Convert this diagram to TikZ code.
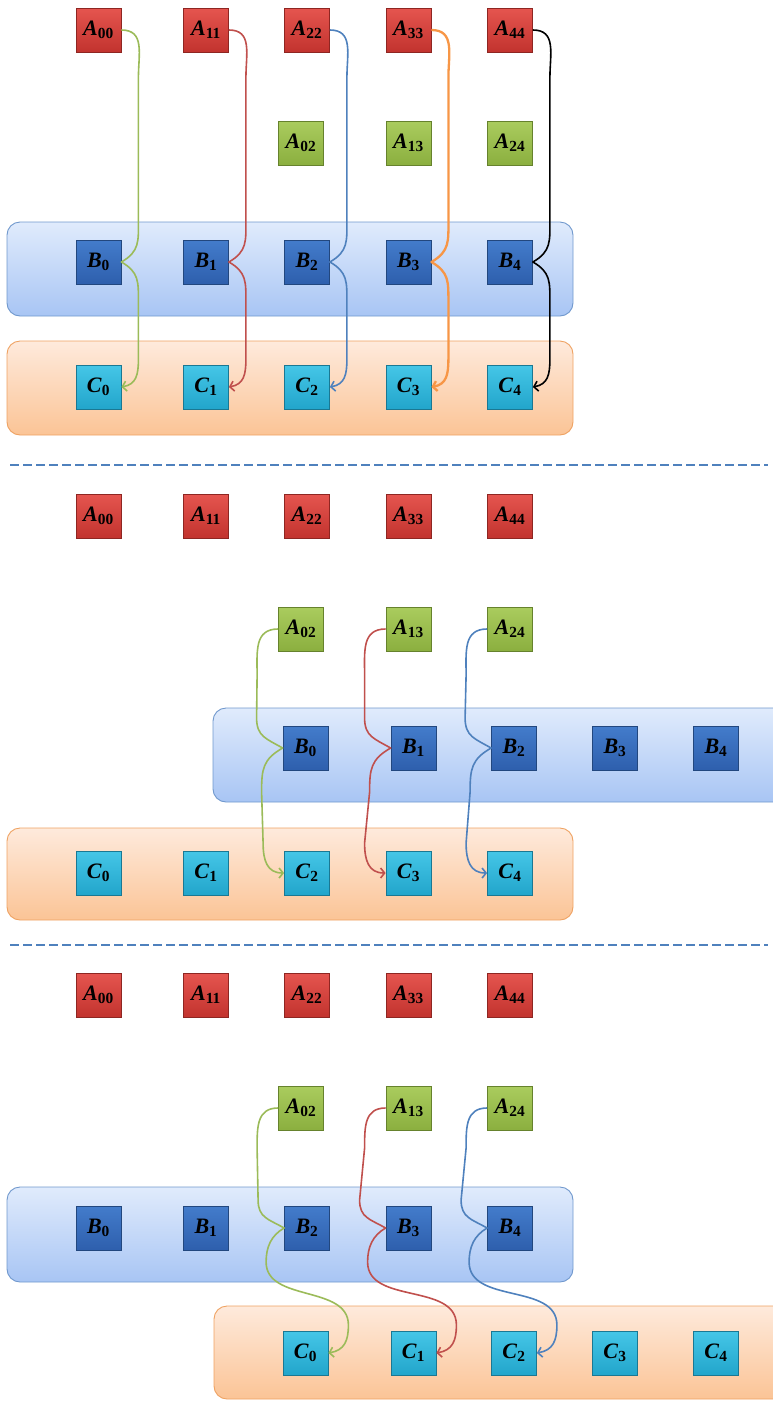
\documentclass[tikz,border=0pt]{standalone}
\usepackage{fontspec}
\setmainfont{Liberation Serif}
\usetikzlibrary{arrows.meta}
\definecolor{redT}{HTML}{E5554F}
\definecolor{redB}{HTML}{C2332E}
\definecolor{redD}{HTML}{8E2622}
\definecolor{grnT}{HTML}{AACC5E}
\definecolor{grnB}{HTML}{8BAF3F}
\definecolor{grnD}{HTML}{66822D}
\definecolor{bluT}{HTML}{437CCB}
\definecolor{bluB}{HTML}{2E5FAD}
\definecolor{bluD}{HTML}{22477E}
\definecolor{cyaT}{HTML}{45C6E7}
\definecolor{cyaB}{HTML}{22A5CB}
\definecolor{cyaD}{HTML}{1A7893}
\definecolor{bandBT}{HTML}{E0EBFC}
\definecolor{bandBB}{HTML}{A8C5F4}
\definecolor{bandBD}{HTML}{7098CD}
\definecolor{bandOT}{HTML}{FEEADC}
\definecolor{bandOB}{HTML}{FBC496}
\definecolor{bandOD}{HTML}{EFA262}
\definecolor{lnG}{HTML}{9BBB59}
\definecolor{lnR}{HTML}{C0504D}
\definecolor{lnB}{HTML}{4F81BD}
\definecolor{lnO}{HTML}{F79646}

\begin{document}
\begin{tikzpicture}[x=1pt, y=1pt,
  box/.style={minimum width=45pt, minimum height=44pt, inner sep=0pt, line width=0.8pt, font=\fontsize{22}{22}\selectfont\bfseries},
  redbox/.style={box, top color=redT, bottom color=redB, draw=redD},
  grnbox/.style={box, top color=grnT, bottom color=grnB, draw=grnD},
  blubox/.style={box, top color=bluT, bottom color=bluB, draw=bluD},
  cyabox/.style={box, top color=cyaT, bottom color=cyaB, draw=cyaD},
  bluband/.style={rounded corners=13pt, top color=bandBT, bottom color=bandBB, draw=bandBD, line width=0.9pt},
  orgband/.style={rounded corners=13pt, top color=bandOT, bottom color=bandOB, draw=bandOD, line width=0.9pt},
  arr/.style={line width=1.6pt, line join=round, -{Straight Barb[length=4pt, width=10pt]}},
  sep/.style={draw=lnB, line width=2.6pt, dash pattern=on 9pt off 4pt}]
	\clip (0, 0) rectangle (773, -1401);

	% bands
	\path[bluband] (7, -222) rectangle (573, -316);
	\path[orgband] (7, -341) rectangle (573, -435);
	\path[bluband] (213, -708) rectangle (795, -802);
	\path[orgband] (7, -828) rectangle (573, -920);
	\path[bluband] (7, -1187) rectangle (573, -1282);
	\path[orgband] (214, -1306) rectangle (795, -1399);
	\draw[sep] (10, -465) -- (768, -465);
	\draw[sep] (10, -945) -- (768, -945);

	% first part
	\node[redbox] (a00) at (98.5, -30) {\textit{A}\textsubscript{00}};
	\node[redbox] (a11) at (206, -30) {\textit{A}\textsubscript{11}};
	\node[redbox] (a22) at (307, -30) {\textit{A}\textsubscript{22}};
	\node[redbox] (a33) at (408.5, -30) {\textit{A}\textsubscript{33}};
	\node[redbox] (a44) at (510, -30) {\textit{A}\textsubscript{44}};
	\node[grnbox] (a02) at (301, -143) {\textit{A}\textsubscript{02}};
	\node[grnbox] (a13) at (408.5, -143) {\textit{A}\textsubscript{13}};
	\node[grnbox] (a24) at (510, -143) {\textit{A}\textsubscript{24}};
	\node[blubox] (b0) at (98.5, -262) {\textit{B}\textsubscript{0}};
	\node[blubox] (b1) at (206, -262) {\textit{B}\textsubscript{1}};
	\node[blubox] (b2) at (307, -262) {\textit{B}\textsubscript{2}};
	\node[blubox] (b3) at (408.5, -262) {\textit{B}\textsubscript{3}};
	\node[blubox] (b4) at (510, -262) {\textit{B}\textsubscript{4}};
	\node[cyabox] (c0) at (98.5, -387) {\textit{C}\textsubscript{0}};
	\node[cyabox] (c1) at (206, -387) {\textit{C}\textsubscript{1}};
	\node[cyabox] (c2) at (307, -387) {\textit{C}\textsubscript{2}};
	\node[cyabox] (c3) at (408.5, -387) {\textit{C}\textsubscript{3}};
	\node[cyabox] (c4) at (510, -387) {\textit{C}\textsubscript{4}};

	% second part
	\node[redbox] (ma00) at (98.5, -516) {\textit{A}\textsubscript{00}};
	\node[redbox] (ma11) at (206, -516) {\textit{A}\textsubscript{11}};
	\node[redbox] (ma22) at (307, -516) {\textit{A}\textsubscript{22}};
	\node[redbox] (ma33) at (408.5, -516) {\textit{A}\textsubscript{33}};
	\node[redbox] (ma44) at (510, -516) {\textit{A}\textsubscript{44}};
	\node[grnbox] (ma02) at (301, -629) {\textit{A}\textsubscript{02}};
	\node[grnbox] (ma13) at (408.5, -629) {\textit{A}\textsubscript{13}};
	\node[grnbox] (ma24) at (510, -629) {\textit{A}\textsubscript{24}};
	\node[blubox] (mb0) at (305.5, -748) {\textit{B}\textsubscript{0}};
	\node[blubox] (mb1) at (413.5, -748) {\textit{B}\textsubscript{1}};
	\node[blubox] (mb2) at (514, -748) {\textit{B}\textsubscript{2}};
	\node[blubox] (mb3) at (615, -748) {\textit{B}\textsubscript{3}};
	\node[blubox] (mb4) at (716, -748) {\textit{B}\textsubscript{4}};
	\node[cyabox] (mc0) at (98.5, -873) {\textit{C}\textsubscript{0}};
	\node[cyabox] (mc1) at (206, -873) {\textit{C}\textsubscript{1}};
	\node[cyabox] (mc2) at (307, -873) {\textit{C}\textsubscript{2}};
	\node[cyabox] (mc3) at (408.5, -873) {\textit{C}\textsubscript{3}};
	\node[cyabox] (mc4) at (510, -873) {\textit{C}\textsubscript{4}};

	% third part
	\node[redbox] (la00) at (98.5, -995) {\textit{A}\textsubscript{00}};
	\node[redbox] (la11) at (206, -995) {\textit{A}\textsubscript{11}};
	\node[redbox] (la22) at (307, -995) {\textit{A}\textsubscript{22}};
	\node[redbox] (la33) at (408.5, -995) {\textit{A}\textsubscript{33}};
	\node[redbox] (la44) at (510, -995) {\textit{A}\textsubscript{44}};
	\node[grnbox] (la02) at (301, -1108) {\textit{A}\textsubscript{02}};
	\node[grnbox] (la13) at (408.5, -1108) {\textit{A}\textsubscript{13}};
	\node[grnbox] (la24) at (510, -1108) {\textit{A}\textsubscript{24}};
	\node[blubox] (lb0) at (98.5, -1228) {\textit{B}\textsubscript{0}};
	\node[blubox] (lb1) at (206, -1228) {\textit{B}\textsubscript{1}};
	\node[blubox] (lb2) at (307, -1228) {\textit{B}\textsubscript{2}};
	\node[blubox] (lb3) at (408.5, -1228) {\textit{B}\textsubscript{3}};
	\node[blubox] (lb4) at (510, -1228) {\textit{B}\textsubscript{4}};
	\node[cyabox] (lc0) at (305.5, -1353) {\textit{C}\textsubscript{0}};
	\node[cyabox] (lc1) at (413.5, -1353) {\textit{C}\textsubscript{1}};
	\node[cyabox] (lc2) at (514, -1353) {\textit{C}\textsubscript{2}};
	\node[cyabox] (lc3) at (615, -1353) {\textit{C}\textsubscript{3}};
	\node[cyabox] (lc4) at (716, -1353) {\textit{C}\textsubscript{4}};

	% arrows, first part
	\draw[arr, lnG] (a00.east) to[out=0, in=90, looseness=1.2] ++(17, -48) -- ([shift={(17, 42)}]b0.east) to[out=-90, in=30, looseness=1.2] (b0.east)
	  to[out=-30, in=90, looseness=1.2] ([shift={(17, -40)}]b0.east) -- ([shift={(17, 28)}]c0.east) to[out=-90, in=10, looseness=1.2] (c0.east);
	\draw[arr, lnR] (a11.east) to[out=0, in=90, looseness=1.2] ++(17, -48) -- ([shift={(17, 42)}]b1.east) to[out=-90, in=30, looseness=1.2] (b1.east)
	  to[out=-30, in=90, looseness=1.2] ([shift={(17, -40)}]b1.east) -- ([shift={(17, 28)}]c1.east) to[out=-90, in=10, looseness=1.2] (c1.east);
	\draw[arr, lnB] (a22.east) to[out=0, in=90, looseness=1.2] ++(17, -48) -- ([shift={(17, 42)}]b2.east) to[out=-90, in=30, looseness=1.2] (b2.east)
	  to[out=-30, in=90, looseness=1.2] ([shift={(17, -40)}]b2.east) -- ([shift={(17, 28)}]c2.east) to[out=-90, in=10, looseness=1.2] (c2.east);
	\draw[arr, lnO, line width=2.3pt] (a33.east) to[out=0, in=90, looseness=1.2] ++(17, -48) -- ([shift={(17, 42)}]b3.east) to[out=-90, in=30, looseness=1.2] (b3.east)
	  to[out=-30, in=90, looseness=1.2] ([shift={(17, -40)}]b3.east) -- ([shift={(17, 28)}]c3.east) to[out=-90, in=10, looseness=1.2] (c3.east);
	\draw[arr, black] (a44.east) to[out=0, in=90, looseness=1.2] ++(17, -48) -- ([shift={(17, 42)}]b4.east) to[out=-90, in=30, looseness=1.2] (b4.east)
	  to[out=-30, in=90, looseness=1.2] ([shift={(17, -40)}]b4.east) -- ([shift={(17, 28)}]c4.east) to[out=-90, in=10, looseness=1.2] (c4.east);

	% arrows, second part
	\draw[arr, lnG] (ma02.west) to[out=180, in=90, looseness=1.2] ++(-21, -46) -- ([shift={(-26, 30)}]mb0.west) to[out=-90, in=150, looseness=1.2] (mb0.west)
	  to[out=-150, in=90, looseness=1.2] ([shift={(-21, -44)}]mb0.west) -- ([shift={(-21, 30)}]mc2.west) to[out=-90, in=180, looseness=1.2] (mc2.west);
	\draw[arr, lnR] (ma13.west) to[out=180, in=90, looseness=1.2] ++(-21, -46) -- ([shift={(-26, 30)}]mb1.west) to[out=-90, in=150, looseness=1.2] (mb1.west)
	  to[out=-150, in=90, looseness=1.2] ([shift={(-21, -44)}]mb1.west) -- ([shift={(-21, 30)}]mc3.west) to[out=-90, in=180, looseness=1.2] (mc3.west);
	\draw[arr, lnB] (ma24.west) to[out=180, in=90, looseness=1.2] ++(-21, -46) -- ([shift={(-26, 30)}]mb2.west) to[out=-90, in=150, looseness=1.2] (mb2.west)
	  to[out=-150, in=90, looseness=1.2] ([shift={(-21, -44)}]mb2.west) -- ([shift={(-21, 30)}]mc4.west) to[out=-90, in=180, looseness=1.2] (mc4.west);

	% arrows, third part
	\draw[arr, lnG] (la02.west) to[out=180, in=90, looseness=1.2] ++(-21, -40) -- ([shift={(-26, 28)}]lb2.west) to[out=-90, in=150, looseness=1.2] (lb2.west)
	  to[out=-150, in=90] ([shift={(-18, -34)}]lb2.west) to[out=-90, in=90] ([shift={(20, 28)}]lc0.east) to[out=-90, in=10, looseness=1.2] (lc0.east);
	\draw[arr, lnR] (la13.west) to[out=180, in=90, looseness=1.2] ++(-21, -40) -- ([shift={(-26, 28)}]lb3.west) to[out=-90, in=150, looseness=1.2] (lb3.west)
	  to[out=-150, in=90] ([shift={(-18, -34)}]lb3.west) to[out=-90, in=90] ([shift={(20, 28)}]lc1.east) to[out=-90, in=10, looseness=1.2] (lc1.east);
	\draw[arr, lnB] (la24.west) to[out=180, in=90, looseness=1.2] ++(-21, -40) -- ([shift={(-26, 28)}]lb4.west) to[out=-90, in=150, looseness=1.2] (lb4.west)
	  to[out=-150, in=90] ([shift={(-18, -34)}]lb4.west) to[out=-90, in=90] ([shift={(20, 28)}]lc2.east) to[out=-90, in=10, looseness=1.2] (lc2.east);
\end{tikzpicture}
\end{document}
